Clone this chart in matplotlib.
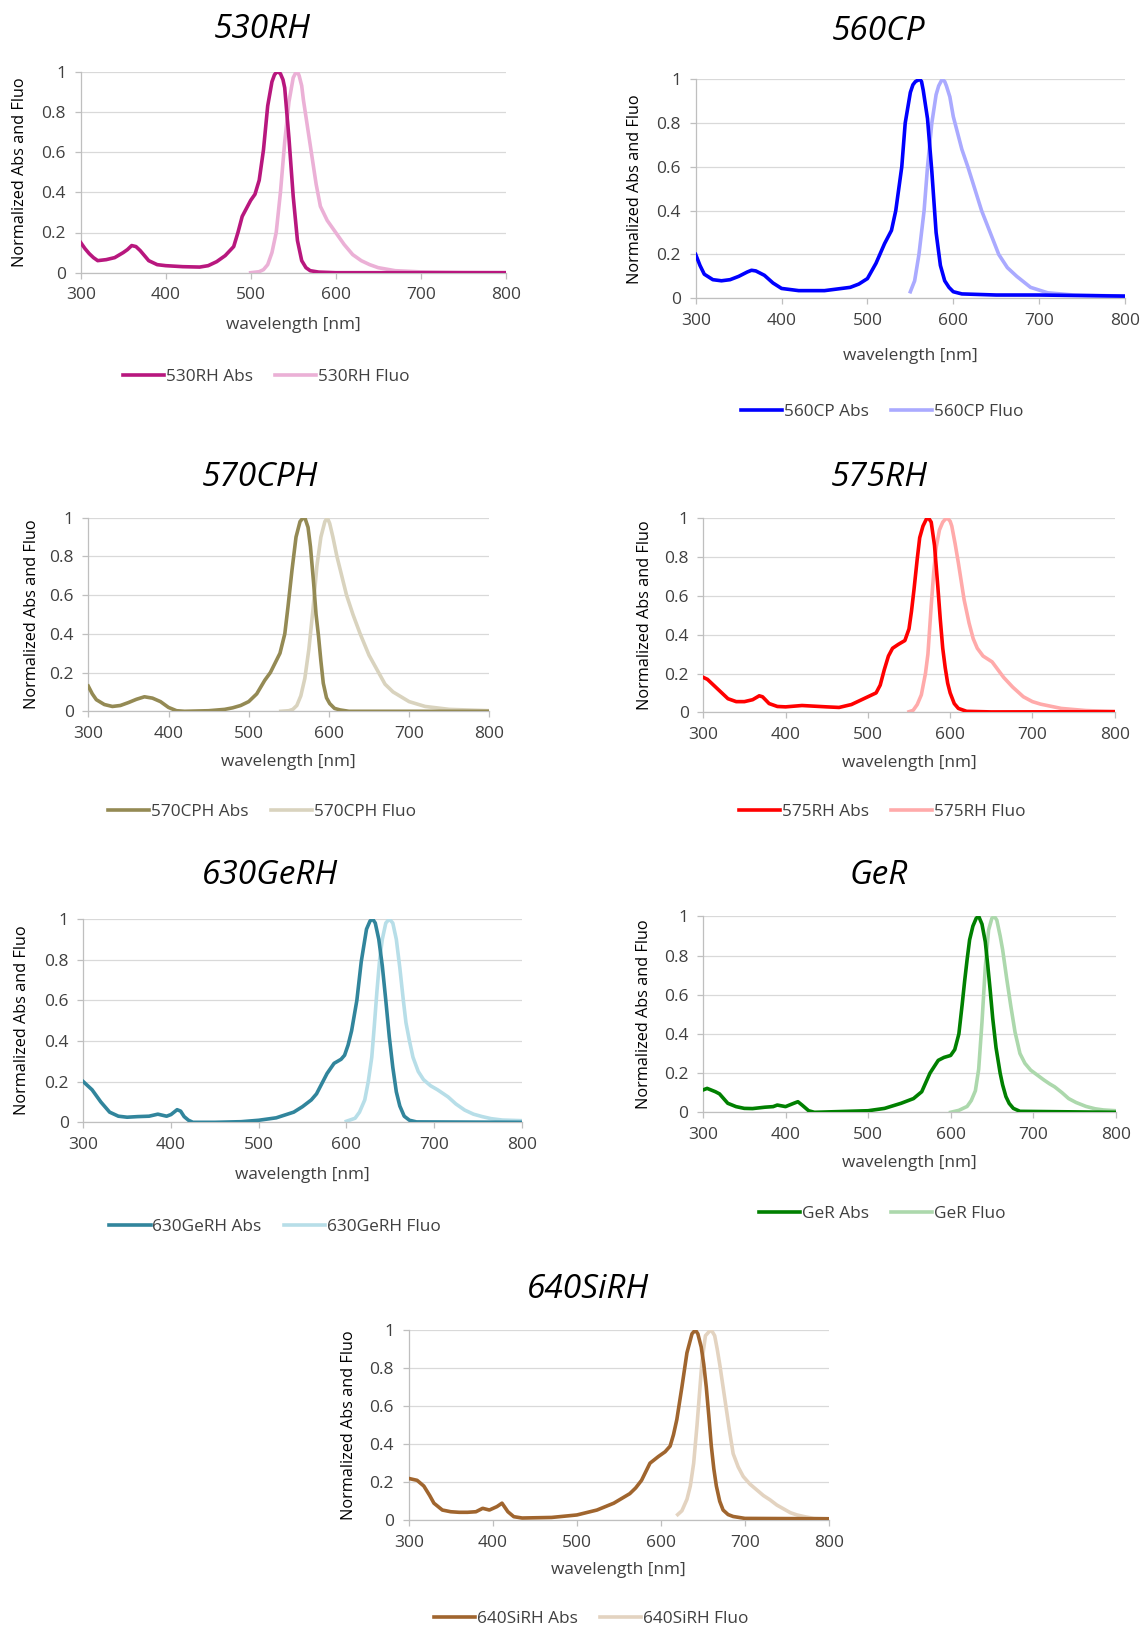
import numpy as np
import matplotlib
matplotlib.use('Agg')
import matplotlib.pyplot as plt

plt.rcParams['font.family'] = ['Open Sans', 'DejaVu Sans']

# ---- data (wavelength in nm, normalized intensity) ----
rh530_abs_x = [300,305,310,315,320,330,340,350,355,360,365,370,375,380,390,400,420,440,450,460,470,480,485,490,495,500,505,510,515,520,525,528,530,532,535,538,540,545,550,555,560,565,570,580,600,700,800]
rh530_abs_y = [0.15,0.12,0.095,0.075,0.06,0.065,0.075,0.1,0.115,0.135,0.13,0.11,0.085,0.06,0.04,0.035,0.03,0.028,0.035,0.055,0.085,0.13,0.2,0.28,0.32,0.36,0.39,0.46,0.61,0.83,0.95,0.985,0.995,1.0,0.99,0.96,0.92,0.67,0.38,0.16,0.06,0.025,0.01,0.003,0.0,0.0,0.0]
rh530_fl_x = [500,510,515,520,525,530,535,540,545,550,553,555,557,560,562,567,572,577,582,590,600,610,620,630,640,650,670,700,750,800]
rh530_fl_y = [0.0,0.005,0.015,0.04,0.1,0.2,0.4,0.65,0.85,0.97,0.995,1.0,0.98,0.93,0.86,0.72,0.58,0.44,0.33,0.26,0.2,0.14,0.09,0.06,0.04,0.025,0.01,0.004,0.001,0.0]

cp560_abs_x = [300,305,310,320,330,340,350,360,365,370,380,390,400,420,450,480,490,500,510,520,528,533,540,544,550,553,556,561,563,565,570,575,580,585,590,595,600,610,650,700,800]
cp560_abs_y = [0.2,0.15,0.11,0.085,0.08,0.085,0.1,0.12,0.128,0.125,0.105,0.07,0.045,0.035,0.035,0.05,0.065,0.09,0.16,0.25,0.31,0.4,0.6,0.8,0.94,0.975,0.99,1.0,0.99,0.95,0.82,0.58,0.3,0.15,0.08,0.05,0.03,0.02,0.015,0.015,0.01]
cp560_fl_x = [550,555,560,566,570,575,580,583,587,590,592,596,600,610,617,625,633,643,653,663,674,690,710,740,800]
cp560_fl_y = [0.03,0.08,0.2,0.4,0.6,0.8,0.93,0.97,1.0,0.99,0.97,0.92,0.83,0.68,0.6,0.5,0.4,0.3,0.2,0.14,0.1,0.05,0.025,0.015,0.01]

cph570_abs_x = [300,305,310,320,330,340,350,360,370,380,390,400,410,420,450,470,480,490,500,510,520,527,533,539,545,549,554,559,564,567,570,574,577,581,584,587,590,593,597,601,607,614,625,800]
cph570_abs_y = [0.13,0.09,0.06,0.035,0.025,0.03,0.045,0.062,0.075,0.068,0.05,0.02,0.003,0.0,0.003,0.01,0.018,0.03,0.05,0.09,0.16,0.2,0.25,0.3,0.4,0.54,0.73,0.9,0.98,0.995,1.0,0.95,0.85,0.66,0.5,0.39,0.26,0.145,0.07,0.04,0.015,0.007,0.0,0.0]
cph570_fl_x = [540,550,555,560,565,570,575,580,585,590,595,598,601,605,610,622,630,639,650,662,670,680,700,720,750,800]
cph570_fl_y = [0.0,0.003,0.01,0.03,0.08,0.17,0.32,0.52,0.75,0.9,0.98,1.0,0.97,0.9,0.8,0.6,0.5,0.4,0.29,0.2,0.14,0.1,0.05,0.025,0.01,0.003]

rh575_abs_x = [300,305,310,320,330,340,350,360,368,372,380,390,400,420,450,465,475,480,490,500,510,515,520,525,530,537,545,550,553,556,560,563,567,571,574,577,581,585,588,591,594,597,600,605,610,620,650,800]
rh575_abs_y = [0.18,0.17,0.15,0.11,0.07,0.055,0.055,0.065,0.085,0.08,0.045,0.03,0.028,0.035,0.028,0.025,0.035,0.04,0.06,0.08,0.1,0.14,0.22,0.29,0.33,0.35,0.37,0.43,0.52,0.63,0.79,0.9,0.96,0.995,1.0,0.98,0.86,0.65,0.48,0.33,0.23,0.15,0.1,0.045,0.02,0.005,0.002,0.003]
rh575_fl_x = [550,555,560,565,570,573,577,580,583,587,591,594,597,600,602,606,610,617,623,628,633,640,651,658,665,676,689,700,710,735,765,800]
rh575_fl_y = [0.003,0.01,0.04,0.09,0.2,0.3,0.55,0.72,0.85,0.94,0.98,0.995,1.0,0.985,0.96,0.87,0.77,0.58,0.46,0.38,0.33,0.29,0.26,0.22,0.18,0.13,0.08,0.055,0.042,0.02,0.009,0.004]

gerh630_abs_x = [300,305,310,320,330,340,350,362,375,385,390,395,400,407,411,415,420,425,450,480,500,520,540,550,560,566,572,578,586,594,598,602,606,612,617,623,627,630,633,637,641,645,649,653,657,661,666,672,680,800]
gerh630_abs_y = [0.2,0.18,0.16,0.1,0.05,0.03,0.025,0.028,0.03,0.04,0.035,0.03,0.038,0.062,0.055,0.028,0.01,0.0,0.0,0.003,0.01,0.022,0.05,0.077,0.11,0.14,0.19,0.24,0.29,0.31,0.33,0.38,0.45,0.6,0.79,0.95,0.99,1.0,0.98,0.9,0.77,0.6,0.42,0.27,0.15,0.08,0.03,0.01,0.002,0.0]
gerh630_fl_x = [600,610,615,621,625,629,632,635,638,641,645,649,653,657,661,665,668,672,676,682,688,696,704,716,725,735,745,755,765,778,800]
gerh630_fl_y = [0.005,0.02,0.05,0.11,0.2,0.32,0.48,0.65,0.8,0.9,0.98,1.0,0.98,0.9,0.76,0.6,0.49,0.4,0.32,0.25,0.21,0.18,0.16,0.125,0.09,0.06,0.04,0.028,0.018,0.011,0.008]

ger_abs_x = [300,305,315,320,325,330,340,350,360,375,385,390,400,410,415,420,428,435,500,520,540,555,565,575,585,592,600,605,610,614,617,620,623,627,631,634,638,642,645,648,651,655,660,663,667,671,676,684,800]
ger_abs_y = [0.114,0.122,0.105,0.094,0.07,0.046,0.029,0.02,0.019,0.026,0.029,0.037,0.029,0.046,0.054,0.037,0.008,0.0,0.008,0.02,0.046,0.07,0.105,0.2,0.265,0.28,0.29,0.32,0.4,0.55,0.67,0.78,0.88,0.95,0.99,1.0,0.96,0.87,0.75,0.62,0.48,0.33,0.2,0.14,0.08,0.045,0.02,0.005,0.0]
ger_fl_x = [600,610,620,625,630,634,638,642,646,650,653,656,660,663,668,673,678,684,690,697,705,713,720,726,735,743,752,764,775,785,800]
ger_fl_y = [0.0,0.01,0.03,0.06,0.11,0.22,0.46,0.74,0.93,0.99,1.0,0.98,0.9,0.83,0.68,0.54,0.41,0.3,0.25,0.215,0.19,0.165,0.145,0.13,0.1,0.07,0.05,0.03,0.018,0.012,0.008]

sirh640_abs_x = [300,305,310,318,325,330,340,350,360,370,380,388,396,405,411,418,425,435,470,500,524,544,563,570,577,587,597,605,611,615,619,625,631,637,641,644,648,651,654,657,660,663,666,670,674,680,686,700,800]
sirh640_abs_y = [0.22,0.215,0.21,0.18,0.13,0.09,0.054,0.045,0.042,0.042,0.045,0.063,0.054,0.072,0.09,0.045,0.019,0.012,0.015,0.028,0.054,0.09,0.14,0.17,0.21,0.3,0.335,0.36,0.39,0.45,0.53,0.7,0.88,0.98,1.0,0.98,0.91,0.82,0.7,0.55,0.39,0.27,0.18,0.1,0.054,0.03,0.02,0.01,0.008]
sirh640_fl_x = [620,625,631,635,639,643,646,649,653,657,660,664,667,670,674,678,682,686,692,698,706,714,722,730,738,746,754,762,772,782,800]
sirh640_fl_y = [0.03,0.05,0.11,0.18,0.3,0.5,0.67,0.84,0.97,0.99,1.0,0.97,0.9,0.82,0.7,0.58,0.46,0.35,0.28,0.23,0.19,0.16,0.13,0.107,0.08,0.06,0.04,0.028,0.018,0.01,0.008]

names = ['530RH', '560CP', '570CPH', '575RH', '630GeRH', 'GeR', '640SiRH']
abs_data = [(rh530_abs_x, rh530_abs_y), (cp560_abs_x, cp560_abs_y), (cph570_abs_x, cph570_abs_y),
            (rh575_abs_x, rh575_abs_y), (gerh630_abs_x, gerh630_abs_y), (ger_abs_x, ger_abs_y),
            (sirh640_abs_x, sirh640_abs_y)]
fl_data = [(rh530_fl_x, rh530_fl_y), (cp560_fl_x, cp560_fl_y), (cph570_fl_x, cph570_fl_y),
           (rh575_fl_x, rh575_fl_y), (gerh630_fl_x, gerh630_fl_y), (ger_fl_x, ger_fl_y),
           (sirh640_fl_x, sirh640_fl_y)]
abs_colors = ['#B8177E', '#0000FF', '#948A54', '#FF0000', '#31859C', '#008000', '#A0652E']
fl_colors = ['#EBB0D6', '#AAAAFF', '#D9D3BE', '#FFAAAA', '#B7DEE8', '#ACD8AC', '#E3D3C0']

# panel layout in pixels: left, top, right, bottom of plot area
boxes = [(80.7, 71.7, 505.7, 272.7), (695.7, 79.3, 1125, 298.3), (88.3, 517.7, 489.3, 711.3),
         (703.3, 518.3, 1114.7, 712.3), (83.3, 919, 521.7, 1122.3), (703, 916.3, 1115.7, 1112.3),
         (408.7, 1330, 829, 1520.3)]
title_pos = [(262, 30), (879, 32), (260, 477), (879, 477), (270, 875), (879, 875), (588, 1289)]
xlab_y = [325, 356, 762, 763, 1175, 1163, 1570]
ylab_x = [20, 635, 32, 645, 22, 644, 349]
leg_pos = [(266, 377), (882, 412), (262, 812), (882, 812), (275, 1227), (882, 1214), (591, 1619)]

W, H = 1144, 1628
fig = plt.figure(figsize=(W/100, H/100), dpi=100)
tick_col = '#404040'

for i, name in enumerate(names):
    l, t, r, b = boxes[i]
    ax = fig.add_axes([l/W, 1-b/H, (r-l)/W, (b-t)/H])
    ax.plot(abs_data[i][0], abs_data[i][1], color=abs_colors[i], lw=2.6, label=name+' Abs',
            zorder=3, solid_joinstyle='round')
    ax.plot(fl_data[i][0], fl_data[i][1], color=fl_colors[i], lw=2.6, label=name+' Fluo',
            zorder=2, solid_joinstyle='round')
    ax.set_xlim(300, 800)
    ax.set_ylim(0, 1)
    ax.set_xticks(np.arange(300, 801, 100))
    ax.set_yticks([0, 0.2, 0.4, 0.6, 0.8, 1])
    ax.set_yticklabels(['0', '0.2', '0.4', '0.6', '0.8', '1'])
    ax.grid(True, axis='y', color='#D9D9D9', lw=0.9)
    ax.set_axisbelow(True)
    for s in ['top', 'right']:
        ax.spines[s].set_visible(False)
    for s in ['left', 'bottom']:
        ax.spines[s].set_color('#BFBFBF')
        ax.spines[s].set_linewidth(0.9)
    ax.tick_params(length=4.5, width=0.9, color='#BFBFBF', labelsize=12.5, labelcolor=tick_col, pad=6)

    fig.text(title_pos[i][0]/W, 1-title_pos[i][1]/H, name, fontsize=24, style='italic',
             ha='center', va='center')
    fig.text((l+r)/2/W, 1-xlab_y[i]/H, 'wavelength [nm]', fontsize=12.4, color=tick_col,
             ha='center', va='center')
    fig.text(ylab_x[i]/W, 1-(t+b)/2/H, 'Normalized Abs and Fluo', fontsize=11.7, rotation=90,
             ha='center', va='center')
    leg = fig.legend(handles=ax.get_lines(), loc='center', ncol=2, frameon=False,
                     bbox_to_anchor=(leg_pos[i][0]/W, 1-leg_pos[i][1]/H), fontsize=12.4,
                     handlelength=2.4, handletextpad=0.1, columnspacing=1.3)
    for txt in leg.get_texts():
        txt.set_color(tick_col)

fig.savefig('out.png', dpi=100)
